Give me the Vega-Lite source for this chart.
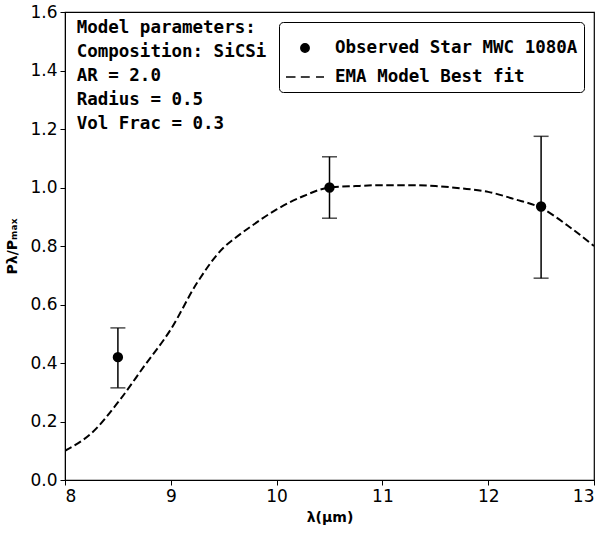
{
  "$schema": "https://vega.github.io/schema/vega-lite/v6.json",
  "width": 529,
  "height": 468,
  "autosize": {"type": "none"},
  "padding": {"left": 65, "top": 12, "right": 9, "bottom": 57},
  "background": "white",
  "datasets": {
    "model": [
      {"wl": 8.0, "p": 0.10}, {"wl": 8.25, "p": 0.16}, {"wl": 8.5, "p": 0.265},
      {"wl": 8.75, "p": 0.39}, {"wl": 9.0, "p": 0.515}, {"wl": 9.25, "p": 0.675},
      {"wl": 9.5, "p": 0.795}, {"wl": 9.6, "p": 0.825}, {"wl": 9.75, "p": 0.865},
      {"wl": 10.0, "p": 0.925}, {"wl": 10.25, "p": 0.97}, {"wl": 10.5, "p": 1.0},
      {"wl": 10.75, "p": 1.005}, {"wl": 11.0, "p": 1.008}, {"wl": 11.25, "p": 1.008},
      {"wl": 11.5, "p": 1.005}, {"wl": 11.75, "p": 0.997}, {"wl": 12.0, "p": 0.985},
      {"wl": 12.25, "p": 0.96}, {"wl": 12.5, "p": 0.93}, {"wl": 12.75, "p": 0.87},
      {"wl": 13.0, "p": 0.80}
    ],
    "obs": [
      {"wl": 8.5, "p": 0.42, "lo": 0.315, "hi": 0.52, "series": "Observed Star MWC 1080A"},
      {"wl": 10.5, "p": 1.0, "lo": 0.895, "hi": 1.105, "series": "Observed Star MWC 1080A"},
      {"wl": 12.5, "p": 0.935, "lo": 0.69, "hi": 1.175, "series": "Observed Star MWC 1080A"}
    ],
    "notes": [
      {"txt": ["Model parameters:", "Composition: SiCSi", "AR = 2.0", "Radius = 0.5", "Vol Frac = 0.3"]}
    ]
  },
  "config": {
    "view": {"stroke": "black", "strokeWidth": 1.2},
    "axis": {
      "grid": false,
      "domainColor": "black",
      "tickColor": "black",
      "tickSize": 5,
      "labelFont": "DejaVu Sans",
      "labelFontSize": 17,
      "labelColor": "black",
      "titleFont": "DejaVu Sans",
      "titleFontSize": 14,
      "titleFontWeight": "bold",
      "titleColor": "black"
    },
    "legend": {
      "labelFont": "DejaVu Sans Mono",
      "labelFontWeight": "bold",
      "labelFontSize": 17.5,
      "labelColor": "black",
      "labelLimit": 500,
      "strokeColor": "black",
      "fillColor": "white",
      "cornerRadius": 4,
      "padding": 6,
      "symbolSize": 1444,
      "rowPadding": -8,
      "labelOffset": 10,
      "orient": "top-right",
      "offset": 10
    }
  },
  "layer": [
    {
      "data": {"name": "model"},
      "mark": {"type": "line", "color": "black", "strokeWidth": 2, "strokeDash": [7.5, 3.5], "interpolate": "monotone", "clip": true},
      "encoding": {
        "x": {"field": "wl", "type": "quantitative", "scale": {"domain": [8, 13], "nice": false, "zero": false},
              "axis": {"values": [8, 9, 10, 11, 12, 13], "format": "d", "title": "λ(μm)", "titlePadding": 6, "labelPadding": 3}},
        "y": {"field": "p", "type": "quantitative", "title": "Pλ/Pₘₐₓ", "scale": {"domain": [0, 1.6], "nice": false},
              "axis": {"values": [0, 0.2, 0.4, 0.6, 0.8, 1.0, 1.2, 1.4, 1.6], "format": ".1f", "titlePadding": 10, "labelPadding": 3}}
      }
    },
    {
      "data": {"name": "obs"},
      "mark": {"type": "errorbar", "color": "black", "thickness": 1.5, "ticks": {"size": 15, "thickness": 1.5, "color": "black"}},
      "encoding": {
        "x": {"field": "wl", "type": "quantitative", "title": "λ(μm)"},
        "y": {"field": "lo", "type": "quantitative", "title": "Pλ/Pₘₐₓ"},
        "y2": {"field": "hi"}
      }
    },
    {
      "data": {"name": "obs"},
      "mark": {"type": "point", "filled": true, "color": "black", "stroke": "black", "strokeWidth": 2, "size": 1444, "opacity": 1},
      "encoding": {
        "x": {"field": "wl", "type": "quantitative", "title": "λ(μm)"},
        "y": {"field": "p", "type": "quantitative", "title": "Pλ/Pₘₐₓ"},
        "shape": {
          "field": "series", "type": "nominal",
          "scale": {
            "domain": ["Observed Star MWC 1080A", "EMA Model Best fit"],
            "range": ["M0,-0.22A0.22,0.22 0 1,1 0,0.22A0.22,0.22 0 1,1 0,-0.22Z", "M-1,0H-0.5M-0.22,0H0.25M0.58,0H1"]
          },
          "legend": {
            "title": null,
            "encode": {"symbols": {"update": {"stroke": {"value": "black"}, "strokeWidth": {"value": 2}, "fill": {"value": "black"}, "opacity": {"value": 1}}}}
          }
        }
      }
    },
    {
      "data": {"name": "notes"},
      "mark": {"type": "text", "font": "DejaVu Sans Mono", "fontWeight": "bold", "fontSize": 17.5, "align": "left", "baseline": "top", "lineHeight": 24, "color": "black"},
      "encoding": {
        "x": {"datum": 8.11},
        "y": {"datum": 1.575},
        "text": {"field": "txt"}
      }
    }
  ]
}
